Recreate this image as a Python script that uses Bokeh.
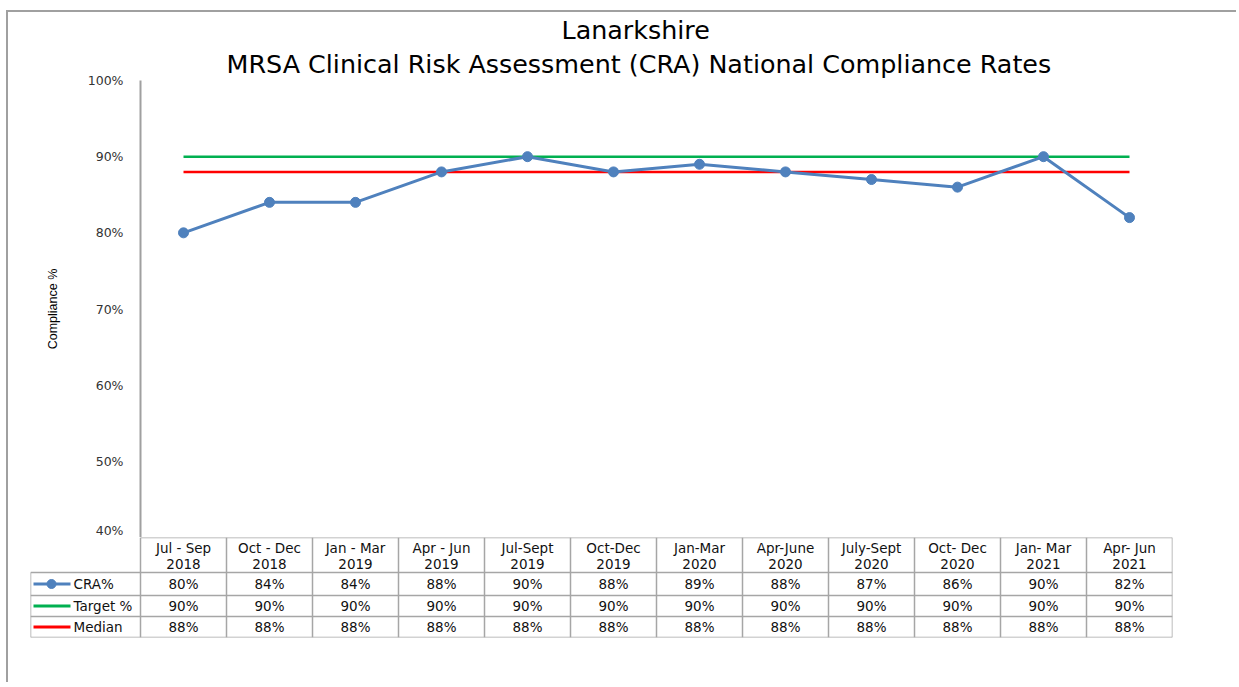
from bokeh.plotting import figure
from bokeh.models import Range1d, LinearAxis, FixedTicker, PrintfTickFormatter, Title
from bokeh.layouts import column
from bokeh.embed import file_html
from bokeh.resources import INLINE
from bokeh.core.properties import value

# ---------------- data ----------------
periods = ["Jul - Sep\n2018", "Oct - Dec\n2018", "Jan - Mar\n2019", "Apr - Jun\n2019",
           "Jul-Sept\n2019", "Oct-Dec\n2019", "Jan-Mar\n2020", "Apr-June\n2020",
           "July-Sept\n2020", "Oct- Dec\n2020", "Jan- Mar\n2021", "Apr- Jun\n2021"]
cra = [80, 84, 84, 88, 90, 88, 89, 88, 87, 86, 90, 82]
target = [90, 90, 90, 90, 90, 90, 90, 90, 90, 90, 90, 90]
median = [88, 88, 88, 88, 88, 88, 88, 88, 88, 88, 88, 88]
series_names = ["CRA%", "Target %", "Median"]
y_ticks = [40, 50, 60, 70, 80, 90, 100]

BLUE = "#4F81BD"
GREEN = "#00B050"
RED = "#FF0000"
GRIDC = "#A6A6A6"
FONT = "DejaVu Sans"

n = len(periods)
idx = list(range(n))

# ---------------- chart ----------------
W = 1228
p = figure(width=W, height=525, x_range=Range1d(-0.5, n - 0.5), y_range=Range1d(40, 100),
           output_backend="svg", toolbar_location=None,
           x_axis_location=None, y_axis_location=None,
           min_border_left=132, min_border_right=64, min_border_top=68, min_border_bottom=0)
p.outline_line_color = None
p.grid.visible = False
p.frame_align = False

yaxis = LinearAxis(ticker=FixedTicker(ticks=y_ticks), formatter=PrintfTickFormatter(format="%d%%"),
                   axis_label="Compliance %", bounds=(40, 100))
yaxis.axis_line_color = "#A0A0A0"
yaxis.axis_line_width = 2
yaxis.major_tick_line_color = None
yaxis.minor_tick_line_color = None
yaxis.major_tick_out = 0
yaxis.major_tick_in = 0
yaxis.major_label_standoff = 17
yaxis.major_label_text_font = FONT
yaxis.major_label_text_font_size = "12.5px"
yaxis.major_label_text_color = "#333333"
yaxis.axis_label_standoff = 25
yaxis.axis_label_text_font = "Liberation Sans"
yaxis.axis_label_text_font_size = "12.5px"
yaxis.axis_label_text_font_style = "normal"
yaxis.axis_label_text_color = "#000000"
p.add_layout(yaxis, "left")

p.line(idx, target, line_color=GREEN, line_width=2.5)
p.line(idx, median, line_color=RED, line_width=2.5)
p.line(idx, cra, line_color=BLUE, line_width=3)
p.scatter(idx, cra, size=10, fill_color=BLUE, line_color=BLUE)

p.add_layout(Title(text="MRSA Clinical Risk Assessment (CRA) National Compliance Rates", align="left",
                   offset=86, text_font=FONT, text_font_size="25.4px", text_font_style="normal",
                   text_color="#000000", standoff=4), "above")
p.add_layout(Title(text="Lanarkshire", align="left", offset=421,
                   text_font=FONT, text_font_size="25.4px", text_font_style="normal",
                   text_color="#000000", standoff=0), "above")

# ---------------- data table ----------------
PX = 1.0 / 86.0          # one pixel in category units
x_left = -0.5 - 110 * PX
row_edges = [0, 35, 58, 79, 100]

t = figure(width=W, height=145, x_range=Range1d(x_left, n - 0.5), y_range=Range1d(100, 0),
           output_backend="svg", toolbar_location=None,
           x_axis_location=None, y_axis_location=None,
           min_border_left=22, min_border_right=64, min_border_top=0, min_border_bottom=45)
t.outline_line_color = None
t.grid.visible = False
t.frame_align = False

# horizontal lines
hx0 = [-0.5] + [x_left] * 4
hx1 = [n - 0.5] * 5
t.segment(x0=hx0, y0=row_edges, x1=hx1, y1=row_edges, line_color=GRIDC, line_width=1.5)
# vertical lines
vx = [i - 0.5 for i in range(n + 1)] + [x_left]
vy0 = [0] * (n + 1) + [row_edges[1]]
vy1 = [100] * (n + 2)
t.segment(x0=vx, y0=vy0, x1=vx, y1=vy1, line_color=GRIDC, line_width=1.5)

TS = "13.5px"
txt_kw = dict(text_font=value(FONT), text_font_size=TS, text_color="#111111",
              text_align="center", text_baseline="middle")
# header
t.text(x=idx, y=[(row_edges[0] + row_edges[1]) / 2 + 1] * n, text=periods, text_line_height=1.0, **txt_kw)
# rows
for r, series in enumerate([cra, target, median]):
    yc = (row_edges[r + 1] + row_edges[r + 2]) / 2
    t.text(x=idx, y=[yc] * n, text=[f"{v}%" for v in series], **txt_kw)

# legend keys
colors = [BLUE, GREEN, RED]
for r, name in enumerate(series_names):
    yc = (row_edges[r + 1] + row_edges[r + 2]) / 2
    t.segment(x0=[x_left + 3 * PX], y0=[yc], x1=[x_left + 40 * PX], y1=[yc],
              line_color=colors[r], line_width=3)
    if r == 0:
        t.scatter([x_left + 21 * PX], [yc], size=9, fill_color=BLUE, line_color=BLUE)
    t.text(x=[x_left + 43 * PX], y=[yc], text=[name], text_font=value(FONT), text_font_size=TS,
           text_color="#111111", text_align="left", text_baseline="middle")

layout = column(p, t, spacing=0,
                styles={"border-left": "2px solid #A0A0A0", "border-top": "2px solid #A0A0A0",
                        "margin-left": "6px", "margin-top": "10px"})

open("out.html", "w").write(file_html(layout, INLINE))
